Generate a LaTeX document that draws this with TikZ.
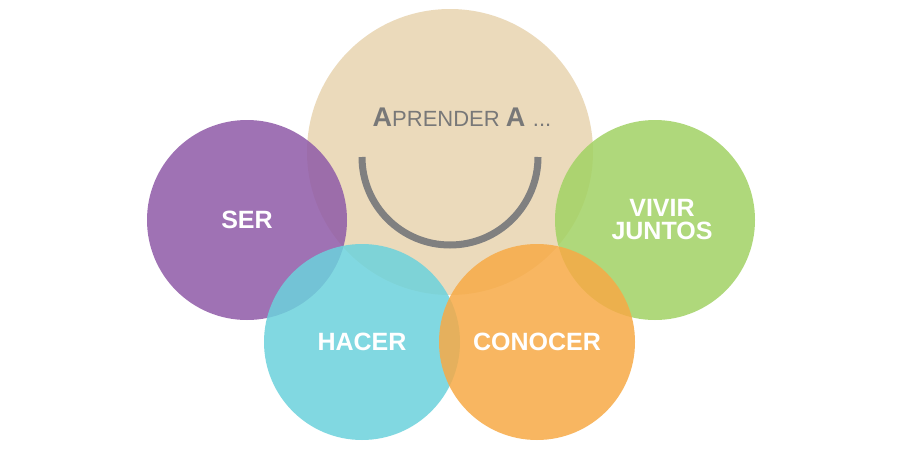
\documentclass[tikz,border=0pt]{standalone}
\usepackage{fontspec}
\setmainfont{Liberation Sans}
\begin{document}
\begin{tikzpicture}[x=1pt,y=-1pt,
  circ/.style={fill opacity=0.85,draw=none},
  lab/.style={text=white,font=\bfseries\fontsize{25}{27}\selectfont,align=center,text opacity=1}]
\useasboundingbox (0,0) rectangle (900,450);
\fill[white] (0,0) rectangle (900,450);
\fill[circ,fill={rgb,255:red,232;green,212;blue,176}] (450,152) circle (143);
\fill[circ,fill={rgb,255:red,143;green,90;blue,168}] (247,220) circle (100);
\fill[circ,fill={rgb,255:red,162;green,210;blue,100}] (655,220) circle (100);
\fill[circ,fill={rgb,255:red,108;green,210;blue,220}] (362,342) circle (98);
\fill[circ,fill={rgb,255:red,247;green,170;blue,70}] (537,342) circle (98);
\draw[line width=7pt,color={rgb,255:red,128;green,128;blue,128}] (362,157) arc[start angle=180,end angle=0,radius=88];
\node (ap) at (462,117) {\textcolor[RGB]{120,120,120}{\fontsize{27}{30}\selectfont\textbf{A}\fontsize{22}{26}\selectfont PRENDER \fontsize{27}{30}\selectfont\textbf{A} \fontsize{22}{26}\selectfont...}};
\node[lab] (ser) at (247,220) {SER};
\node[lab] (viv) at (662,220) {VIVIR\\[-4pt]JUNTOS};
\node[lab] (hac) at (362,342) {HACER};
\node[lab] (con) at (537,342) {CONOCER};
\end{tikzpicture}
\end{document}
